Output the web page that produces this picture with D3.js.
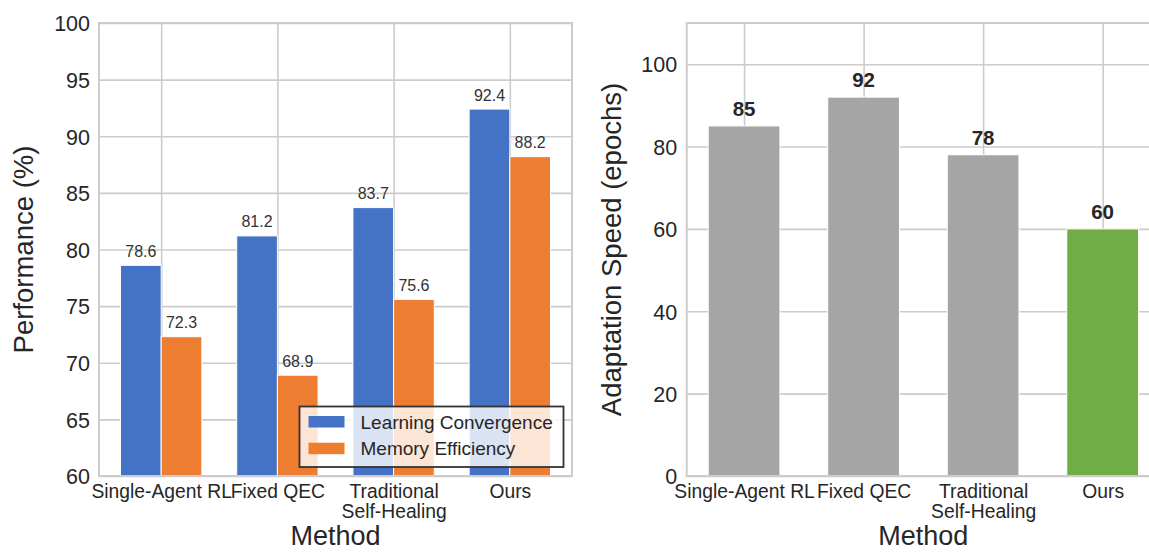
<!DOCTYPE html>
<html>
<head>
<meta charset="utf-8">
<script src="https://cdn.jsdelivr.net/npm/d3@7"></script>
<style>
  html, body { margin: 0; padding: 0; background: #ffffff; }
  svg { display: block; font-family: "Liberation Sans", Arial, sans-serif; }
</style>
</head>
<body>
<svg id="chart" width="1149" height="552"></svg>
<script>
// ---- data ----
const categories = ["Single-Agent RL", "Fixed QEC", "Traditional\nSelf-Healing", "Ours"];
const seriesNames = ["Learning Convergence", "Memory Efficiency"];
const learningConvergence = [78.6, 81.2, 83.7, 92.4];
const memoryEfficiency = [72.3, 68.9, 75.6, 88.2];
const adaptationSpeed = [85, 92, 78, 60];
const leftTicks = [60, 65, 70, 75, 80, 85, 90, 95, 100];
const rightTicks = [0, 20, 40, 60, 80, 100];

// ---- style ----
const C_BLUE = "#4472C4", C_ORANGE = "#ED7D31", C_GRAY = "#A5A5A5", C_GREEN = "#70AD47";
const GRID = "#cccccc", TXT = "#262626";

const svg = d3.select("#chart");
const idx = categories.map((_, i) => i);

function styleXAxis(g) {
  g.select(".domain").remove();
  g.selectAll(".tick line").remove();
  g.selectAll(".tick text").each(function(d) {
    const t = d3.select(this);
    const lines = categories[d].split("\n");
    t.text(null).attr("y", 22).attr("dy", null)
      .attr("fill", TXT).style("font-size", "19.3px");
    lines.forEach((l, k) => {
      t.append("tspan").attr("x", 0).attr("dy", k === 0 ? 0 : 19.5).text(l);
    });
  });
}
function styleYAxis(g) {
  g.select(".domain").remove();
  g.selectAll(".tick line").remove();
  g.selectAll(".tick text").attr("fill", TXT).style("font-size", "21.5px").attr("dy", "0.36em");
}

// ================= LEFT PANEL =================
{
  const L = 99, R = 572, T = 23, B = 476;
  const x = d3.scaleLinear().domain([-0.535, 3.535]).range([L, R]);
  const y = d3.scaleLinear().domain([60, 100]).range([B, T]);
  const w = 0.35;
  const g = svg.append("g");

  // grid
  g.append("g").attr("transform", `translate(${L},0)`)
    .call(d3.axisLeft(y).tickValues(leftTicks).tickSize(-(R - L)).tickFormat(""))
    .call(a => { a.select(".domain").remove(); a.selectAll("line").attr("stroke", GRID).attr("stroke-width", 1.6); });
  g.append("g").attr("transform", `translate(0,${B})`)
    .call(d3.axisBottom(x).tickValues(idx).tickSize(-(B - T)).tickFormat(""))
    .call(a => { a.select(".domain").remove(); a.selectAll("line").attr("stroke", GRID).attr("stroke-width", 1.6); });

  // bars
  const series = [
    { vals: learningConvergence, off: -w / 2, color: C_BLUE },
    { vals: memoryEfficiency, off: w / 2, color: C_ORANGE }
  ];
  series.forEach(s => {
    g.append("g").selectAll("rect").data(s.vals).join("rect")
      .attr("x", (d, i) => x(i + s.off - w / 2))
      .attr("width", x(w) - x(0))
      .attr("y", d => y(d))
      .attr("height", d => y(60) - y(d))
      .attr("fill", s.color).attr("stroke", "#ffffff").attr("stroke-width", 1);
    g.append("g").selectAll("text").data(s.vals).join("text")
      .attr("x", (d, i) => x(i + s.off))
      .attr("y", d => y(d) - 8.5)
      .attr("text-anchor", "middle")
      .attr("fill", "#333333").style("font-size", "16px")
      .text(d => d.toFixed(1));
  });

  // spines
  g.append("rect").attr("x", L).attr("y", T).attr("width", R - L).attr("height", B - T)
    .attr("fill", "none").attr("stroke", GRID).attr("stroke-width", 2);

  // axes
  g.append("g").attr("transform", `translate(${L - 9},0)`)
    .call(d3.axisLeft(y).tickValues(leftTicks).tickSize(0).tickPadding(0).tickFormat(d3.format("d")))
    .call(styleYAxis);
  g.append("g").attr("transform", `translate(0,${B})`)
    .call(d3.axisBottom(x).tickValues(idx).tickSize(0))
    .call(styleXAxis);

  // labels
  g.append("text").attr("transform", `translate(33,${(T + B) / 2}) rotate(-90)`)
    .attr("text-anchor", "middle").attr("fill", TXT).style("font-size", "27.5px")
    .text("Performance (%)");
  g.append("text").attr("x", (L + R) / 2).attr("y", 545)
    .attr("text-anchor", "middle").attr("fill", TXT).style("font-size", "27px")
    .text("Method");

  // legend
  const lg = g.append("g").attr("transform", "translate(299.5,406.5)");
  lg.append("rect").attr("width", 264).attr("height", 60.5)
    .attr("fill", "#ffffff").attr("fill-opacity", 0.8)
    .attr("stroke", "#333333").attr("stroke-width", 1.8);
  const legendColors = [C_BLUE, C_ORANGE];
  const items = lg.selectAll("g.item").data(seriesNames).join("g")
    .attr("transform", (d, i) => `translate(9,${9.5 + i * 26.7})`);
  items.append("rect").attr("width", 36).attr("height", 11.5)
    .attr("fill", (d, i) => legendColors[i]);
  items.append("text").attr("x", 52).attr("y", 12.5)
    .attr("fill", TXT).style("font-size", "19px").text(d => d);
}

// ================= RIGHT PANEL =================
{
  const L = 686.7, R = 1160, T = 23, B = 476;
  const x = d3.scaleLinear().domain([-0.48, 3.48]).range([L, R]);
  const y = d3.scaleLinear().domain([0, 110]).range([B, T]);
  const w = 0.6;
  const colors = [C_GRAY, C_GRAY, C_GRAY, C_GREEN];
  const g = svg.append("g");

  g.append("g").attr("transform", `translate(${L},0)`)
    .call(d3.axisLeft(y).tickValues(rightTicks).tickSize(-(R - L)).tickFormat(""))
    .call(a => { a.select(".domain").remove(); a.selectAll("line").attr("stroke", GRID).attr("stroke-width", 1.6); });
  g.append("g").attr("transform", `translate(0,${B})`)
    .call(d3.axisBottom(x).tickValues(idx).tickSize(-(B - T)).tickFormat(""))
    .call(a => { a.select(".domain").remove(); a.selectAll("line").attr("stroke", GRID).attr("stroke-width", 1.6); });

  g.append("g").selectAll("rect").data(adaptationSpeed).join("rect")
    .attr("x", (d, i) => x(i - w / 2))
    .attr("width", x(w) - x(0))
    .attr("y", d => y(d))
    .attr("height", d => y(0) - y(d))
    .attr("fill", (d, i) => colors[i]).attr("stroke", "#ffffff").attr("stroke-width", 1);
  g.append("g").selectAll("text").data(adaptationSpeed).join("text")
    .attr("x", (d, i) => x(i))
    .attr("y", d => y(d) - 10)
    .attr("text-anchor", "middle")
    .attr("fill", TXT).style("font-size", "20.5px").style("font-weight", "bold")
    .text(d => d);

  g.append("rect").attr("x", L).attr("y", T).attr("width", R - L).attr("height", B - T)
    .attr("fill", "none").attr("stroke", GRID).attr("stroke-width", 2);

  g.append("g").attr("transform", `translate(${L - 9.5},0)`)
    .call(d3.axisLeft(y).tickValues(rightTicks).tickSize(0).tickPadding(0).tickFormat(d3.format("d")))
    .call(styleYAxis);
  g.append("g").attr("transform", `translate(0,${B})`)
    .call(d3.axisBottom(x).tickValues(idx).tickSize(0))
    .call(styleXAxis);

  g.append("text").attr("transform", `translate(621,${(T + B) / 2}) rotate(-90)`)
    .attr("text-anchor", "middle").attr("fill", TXT).style("font-size", "27.5px")
    .text("Adaptation Speed (epochs)");
  g.append("text").attr("x", (L + R) / 2).attr("y", 545)
    .attr("text-anchor", "middle").attr("fill", TXT).style("font-size", "27px")
    .text("Method");
}
</script>
</body>
</html>
